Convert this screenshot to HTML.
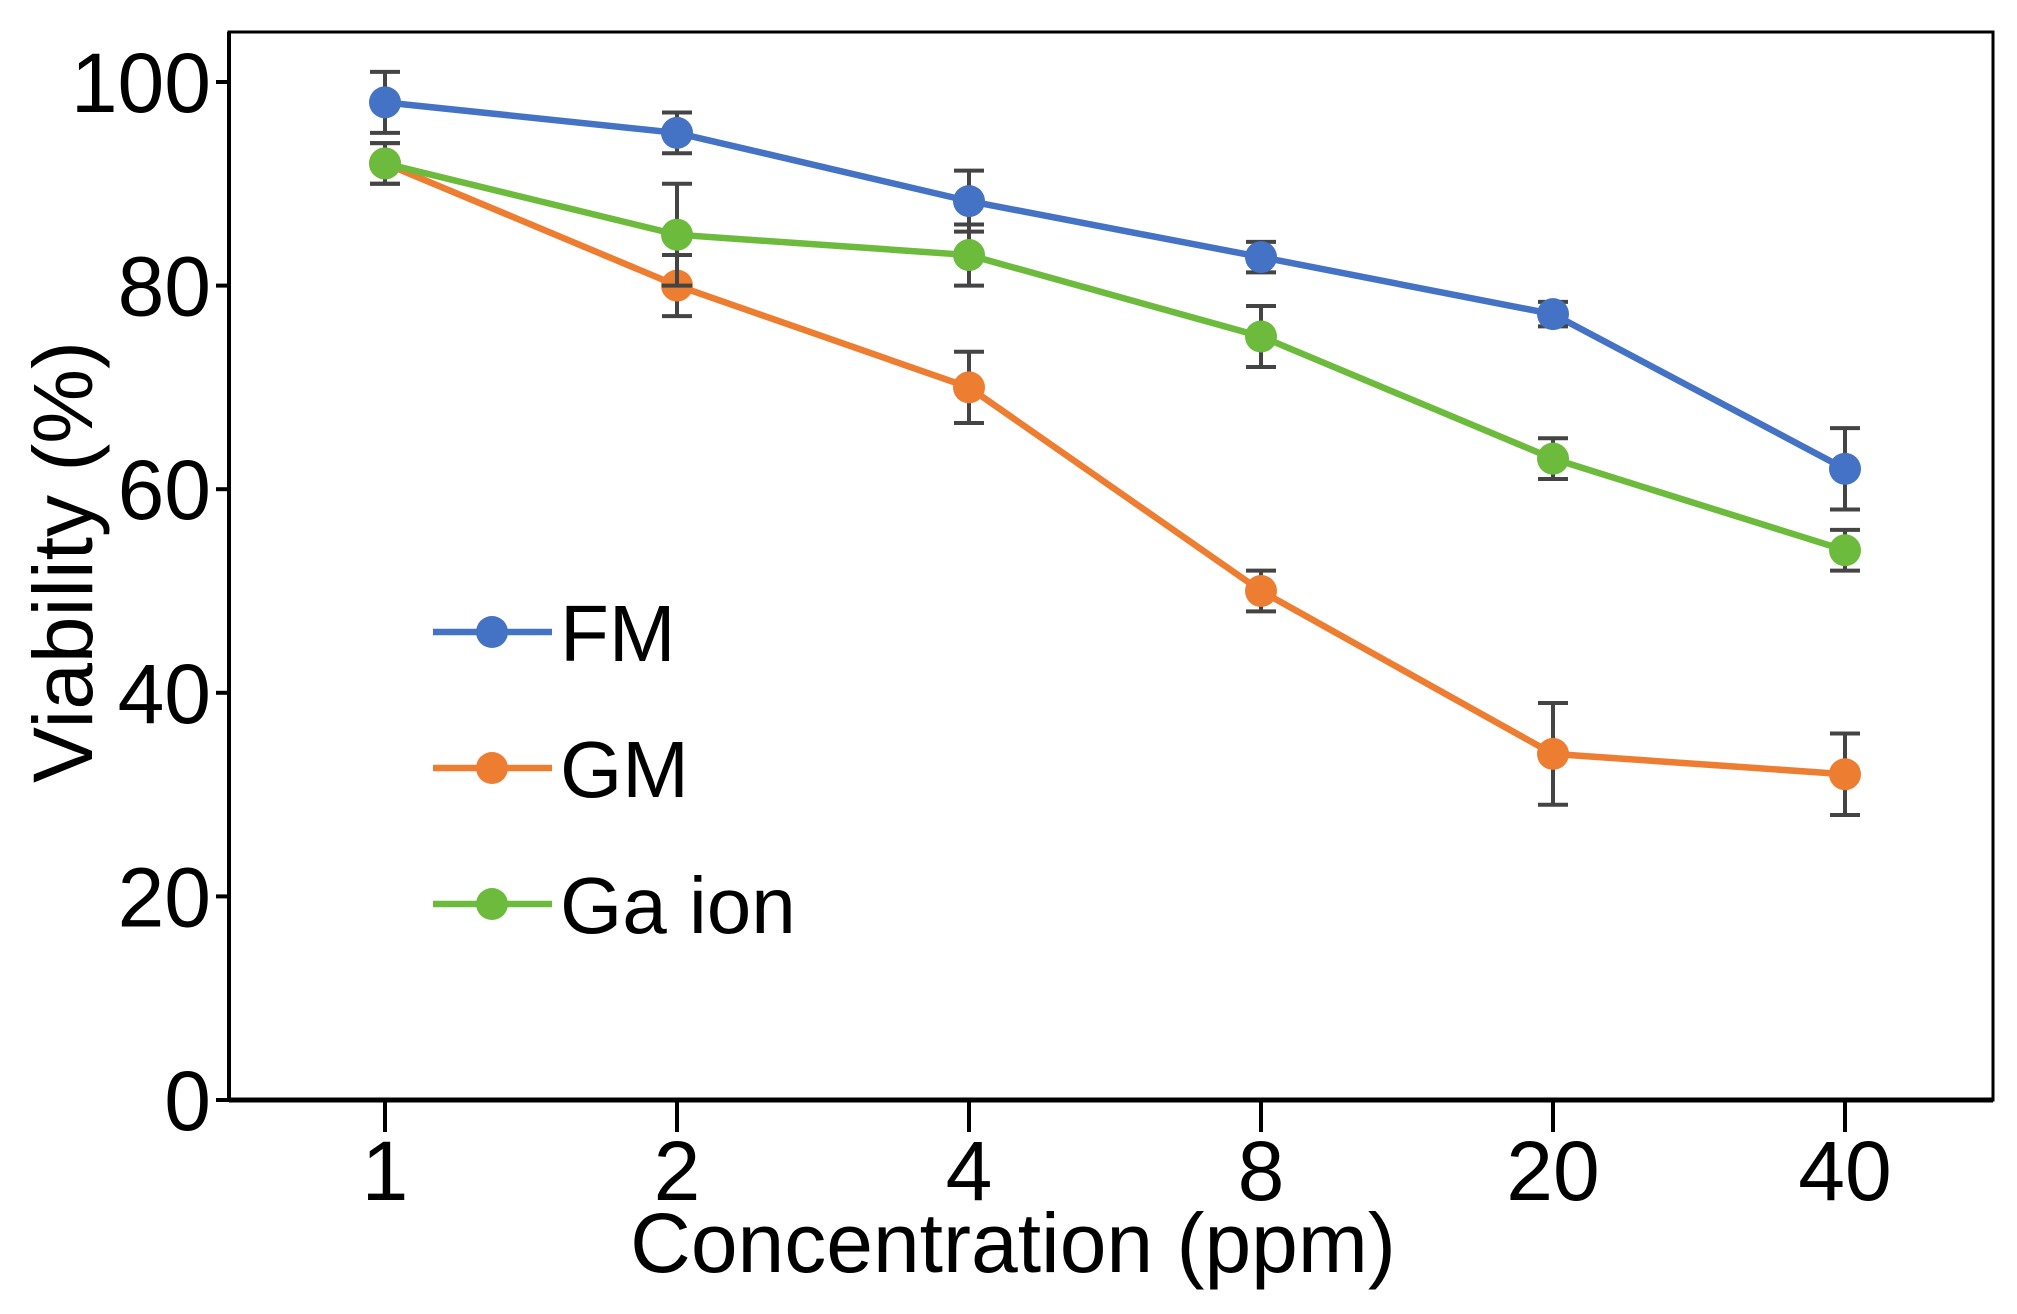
<!DOCTYPE html>
<html><head><meta charset="utf-8"><style>
html,body{margin:0;padding:0;background:#fff;}
svg{display:block;font-family:"Liberation Sans",Arial,sans-serif;}
</style></head><body>
<svg id="chart" width="2017" height="1314" viewBox="0 0 2017 1314" xmlns="http://www.w3.org/2000/svg">
<g id="axes"></g><g id="series"></g><g id="legend"></g>
</svg>
<script>
const categories = ["1","2","4","8","20","40"];
const yTicks = [0,20,40,60,80,100];
const seriesNames = ["FM","GM","Ga ion"];
const fmValues = [98,95,88.3,82.8,77.2,62];
const fmErrors = [3,2,3,1.5,1.2,4];
const gmValues = [92,80,70,50,34,32];
const gmErrors = [2,3,3.5,2,5,4];
const gaValues = [92,85,83,75,63,54];
const gaErrors = [2,5,3,3,2,2];
const colors = ["#4472c4","#ed7d31","#6cbb3c"];

const NS="http://www.w3.org/2000/svg";
const L=229,R=1993,T=32,B=1100;
const x0=385,dx=292;
function xs(i){return x0+i*dx;}
function ys(v){return 1100-(v/100)*1018;}
function mk(tag,attrs,parent){const e=document.createElementNS(NS,tag);for(const k in attrs)e.setAttribute(k,attrs[k]);parent.appendChild(e);return e;}
const axes=document.getElementById('axes');
let el;
el=mk('rect',{x:L,y:T,width:R-L,height:B-T,fill:'none',stroke:'#000','stroke-width':3},axes);


el=mk('line',{x1:L,y1:B,x2:R,y2:B,stroke:'#000','stroke-width':5},axes);


el=mk('line',{x1:L,y1:T,x2:L,y2:B,stroke:'#000','stroke-width':4},axes);


yTicks.forEach(v=>{
  const y=ys(v);
  el=mk('line',{x1:L-13,y1:y,x2:L,y2:y,stroke:'#000','stroke-width':4},axes);
  
  
  el=mk('text',{x:L-18,y:y+30,'text-anchor':'end','font-size':84,fill:'#000'},axes);
  el.textContent=v;
  
  
});
categories.forEach((c,i)=>{
  const x=xs(i);
  el=mk('line',{x1:x,y1:B,x2:x,y2:B+32,stroke:'#000','stroke-width':4},axes);
  
  
  el=mk('text',{x:x,y:1200,'text-anchor':'middle','font-size':84,fill:'#000'},axes);
  el.textContent=c;
  
  
});
el=mk('text',{x:1013,y:1272,'text-anchor':'middle','font-size':84,fill:'#000'},axes);
el.textContent='Concentration (ppm)';


el=mk('text',{x:0,y:0,'text-anchor':'middle','font-size':84,fill:'#000',transform:'translate(92,562) rotate(-90)'},axes);
el.textContent='Viability (%)';



const seriesG=document.getElementById('series');
const allVals=[fmValues,gmValues,gaValues], allErr=[fmErrors,gmErrors,gaErrors];
[1,2,0].forEach(s=>{
  const g=mk('g',{},seriesG);
  
  
  const vals=allVals[s],errs=allErr[s];
  const pts=vals.map((v,i)=>xs(i)+','+ys(v)).join(' ');
  el=mk('polyline',{points:pts,fill:'none',stroke:colors[s],'stroke-width':6.5},g);
  
  
  vals.forEach((v,i)=>{
    const x=xs(i),y1=ys(v+errs[i]),y2=ys(v-errs[i]);
    el=mk('path',{d:`M${x},${y1}V${y2}M${x-15},${y1}H${x+15}M${x-15},${y2}H${x+15}`,stroke:'#444','stroke-width':4,fill:'none'},g);
    
    
    el=mk('circle',{cx:x,cy:ys(v),r:16,fill:colors[s]},g);
    
    
  });
});

const lg=document.getElementById('legend');


const legY=[632,768,904];
seriesNames.forEach((n,s)=>{
  const g=mk('g',{},lg);
  
  
  mk('line',{x1:433,y1:legY[s],x2:552,y2:legY[s],stroke:colors[s],'stroke-width':6.5},g);
  mk('circle',{cx:492,cy:legY[s],r:16,fill:colors[s]},g);
  el=mk('text',{x:560,y:legY[s]+29,'font-size':80,fill:'#000'},g);
  el.textContent=n;
  
  
});
</script>
</body></html>
